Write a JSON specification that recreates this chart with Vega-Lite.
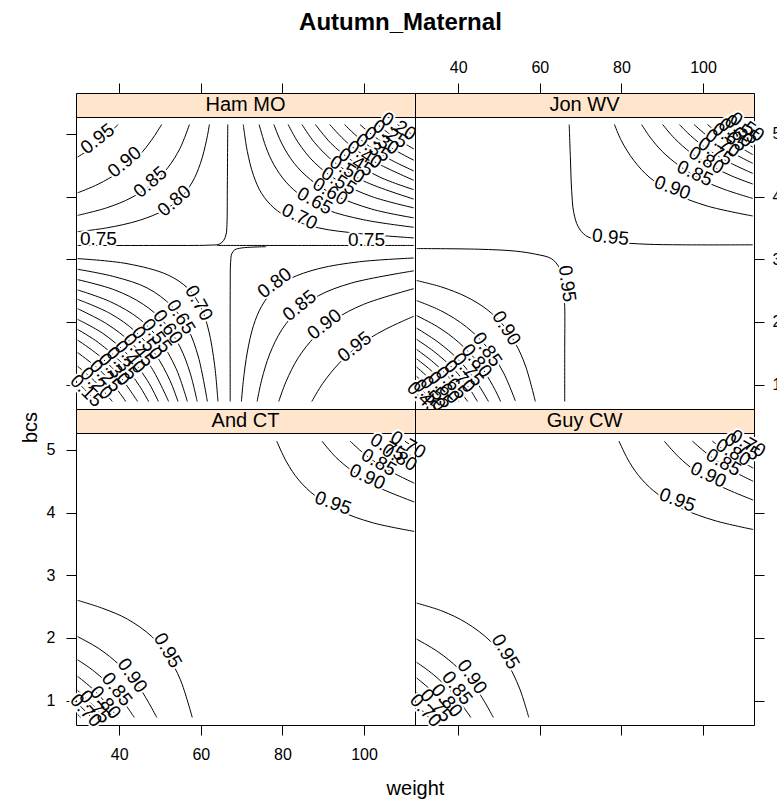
{
"$schema": "https://vega.github.io/schema/vega-lite/v6.json",
"background": "white",
"padding": {"left": 19, "top": 11, "right": 0, "bottom": 0},
"title": {"text": "Autumn_Maternal", "fontSize": 24, "font": "Liberation Sans", "fontWeight": "bold", "anchor": "middle", "color": "black", "baseline": "alphabetic", "offset": 5},
"config": {
  "view": {"stroke": "black", "strokeWidth": 1},
  "text": {"font": "Liberation Sans"},
  "axis": {"tickColor": "black", "tickSize": 10, "tickWidth": 1, "domain": false, "grid": false, "labelFont": "Liberation Sans", "labelFontSize": 16, "labelColor": "black", "labelFlush": false, "labelOverlap": false, "titleFont": "Liberation Sans", "titleFontSize": 20, "titleFontWeight": "normal", "titleColor": "black"}
},
"columns": 2,
"spacing": 0,
"bounds": "flush",
"align": "each",
"datasets": {
"hmL": [
{"line":"ul95","i":1,"weight":29.8,"bcs":4.63},{"line":"ul95","i":2,"weight":33.9,"bcs":4.81},{"line":"ul95","i":3,"weight":36.9,"bcs":4.97},{"line":"ul95","i":4,"weight":39.7,"bcs":5.15},
{"line":"ul90","i":1,"weight":29.8,"bcs":4.06},{"line":"ul90","i":2,"weight":34.9,"bcs":4.20},{"line":"ul90","i":3,"weight":39.9,"bcs":4.39},{"line":"ul90","i":4,"weight":44.9,"bcs":4.66},{"line":"ul90","i":5,"weight":47.9,"bcs":4.90},{"line":"ul90","i":6,"weight":50.4,"bcs":5.15},
{"line":"ul85","i":1,"weight":29.8,"bcs":3.70},{"line":"ul85","i":2,"weight":36.9,"bcs":3.82},{"line":"ul85","i":3,"weight":42.9,"bcs":3.98},{"line":"ul85","i":4,"weight":47.9,"bcs":4.19},{"line":"ul85","i":5,"weight":51.9,"bcs":4.46},{"line":"ul85","i":6,"weight":54.9,"bcs":4.77},{"line":"ul85","i":7,"weight":57.2,"bcs":5.15},
{"line":"ul80","i":1,"weight":29.8,"bcs":3.44},{"line":"ul80","i":2,"weight":36.9,"bcs":3.50},{"line":"ul80","i":3,"weight":44.9,"bcs":3.62},{"line":"ul80","i":4,"weight":50.9,"bcs":3.78},{"line":"ul80","i":5,"weight":54.9,"bcs":3.97},{"line":"ul80","i":6,"weight":57.9,"bcs":4.23},{"line":"ul80","i":7,"weight":59.9,"bcs":4.53},{"line":"ul80","i":8,"weight":61.4,"bcs":4.90},{"line":"ul80","i":9,"weight":62.1,"bcs":5.15},
{"line":"ul75","i":1,"weight":29.8,"bcs":3.22},{"line":"ul75","i":2,"weight":50,"bcs":3.22},{"line":"ul75","i":3,"weight":62,"bcs":3.225},{"line":"ul75","i":4,"weight":64.5,"bcs":3.24},{"line":"ul75","i":5,"weight":65.6,"bcs":3.30},{"line":"ul75","i":6,"weight":66.2,"bcs":3.40},{"line":"ul75","i":7,"weight":66.4,"bcs":3.55},{"line":"ul75","i":8,"weight":66.5,"bcs":4.2},{"line":"ul75","i":9,"weight":66.6,"bcs":5.15},
{"line":"r75","i":1,"weight":64,"bcs":3.22},{"line":"r75","i":2,"weight":88,"bcs":3.22},{"line":"r75","i":3,"weight":112.2,"bcs":3.22},
{"line":"lr75","i":1,"weight":67.2,"bcs":0.73},{"line":"lr75","i":2,"weight":67.2,"bcs":2.5},{"line":"lr75","i":3,"weight":67.3,"bcs":2.95},{"line":"lr75","i":4,"weight":67.6,"bcs":3.09},{"line":"lr75","i":5,"weight":68.3,"bcs":3.15},{"line":"lr75","i":6,"weight":70,"bcs":3.18},{"line":"lr75","i":7,"weight":76,"bcs":3.2},
{"line":"lr80","i":1,"weight":69.95,"bcs":0.73},{"line":"lr80","i":2,"weight":70.4,"bcs":1.05},{"line":"lr80","i":3,"weight":71.4,"bcs":1.52},{"line":"lr80","i":4,"weight":72.9,"bcs":1.94},{"line":"lr80","i":5,"weight":74.9,"bcs":2.25},{"line":"lr80","i":6,"weight":77.9,"bcs":2.51},{"line":"lr80","i":7,"weight":81.9,"bcs":2.69},{"line":"lr80","i":8,"weight":88.9,"bcs":2.85},{"line":"lr80","i":9,"weight":98.9,"bcs":2.96},{"line":"lr80","i":10,"weight":112.2,"bcs":3.02},
{"line":"lr85","i":1,"weight":73.8,"bcs":0.73},{"line":"lr85","i":2,"weight":74.9,"bcs":1.07},{"line":"lr85","i":3,"weight":76.9,"bcs":1.49},{"line":"lr85","i":4,"weight":79.9,"bcs":1.88},{"line":"lr85","i":5,"weight":83.9,"bcs":2.19},{"line":"lr85","i":6,"weight":88.9,"bcs":2.42},{"line":"lr85","i":7,"weight":96.9,"bcs":2.62},{"line":"lr85","i":8,"weight":112.2,"bcs":2.815},
{"line":"lr90","i":1,"weight":79.1,"bcs":0.73},{"line":"lr90","i":2,"weight":80.9,"bcs":1.05},{"line":"lr90","i":3,"weight":83.9,"bcs":1.43},{"line":"lr90","i":4,"weight":87.9,"bcs":1.76},{"line":"lr90","i":5,"weight":92.9,"bcs":2.04},{"line":"lr90","i":6,"weight":99.9,"bcs":2.28},{"line":"lr90","i":7,"weight":112.2,"bcs":2.53},
{"line":"lr95","i":1,"weight":87.2,"bcs":0.73},{"line":"lr95","i":2,"weight":89.9,"bcs":1.02},{"line":"lr95","i":3,"weight":93.9,"bcs":1.34},{"line":"lr95","i":4,"weight":98.9,"bcs":1.63},{"line":"lr95","i":5,"weight":104.9,"bcs":1.87},{"line":"lr95","i":6,"weight":112.2,"bcs":2.09},
{"line":"ur70","i":1,"weight":70.4,"bcs":5.15},{"line":"ur70","i":2,"weight":71.4,"bcs":4.72},{"line":"ur70","i":3,"weight":72.9,"bcs":4.34},{"line":"ur70","i":4,"weight":74.9,"bcs":4.05},{"line":"ur70","i":5,"weight":77.9,"bcs":3.82},{"line":"ur70","i":6,"weight":81.9,"bcs":3.65},{"line":"ur70","i":7,"weight":88.9,"bcs":3.50},{"line":"ur70","i":8,"weight":98.9,"bcs":3.41},{"line":"ur70","i":9,"weight":112.2,"bcs":3.34},
{"line":"ur65","i":1,"weight":74.3,"bcs":5.15},{"line":"ur65","i":2,"weight":75.9,"bcs":4.80},{"line":"ur65","i":3,"weight":77.9,"bcs":4.51},{"line":"ur65","i":4,"weight":80.9,"bcs":4.23},{"line":"ur65","i":5,"weight":84.9,"bcs":4.00},{"line":"ur65","i":6,"weight":90.9,"bcs":3.79},{"line":"ur65","i":7,"weight":99.9,"bcs":3.63},{"line":"ur65","i":8,"weight":112.2,"bcs":3.51},
{"line":"ur60","i":1,"weight":77.9,"bcs":5.15},{"line":"ur60","i":2,"weight":79.9,"bcs":4.84},{"line":"ur60","i":3,"weight":82.9,"bcs":4.53},{"line":"ur60","i":4,"weight":86.9,"bcs":4.27},{"line":"ur60","i":5,"weight":92.9,"bcs":4.02},{"line":"ur60","i":6,"weight":101.9,"bcs":3.80},{"line":"ur60","i":7,"weight":112.2,"bcs":3.66},
{"line":"ur55","i":1,"weight":81.4,"bcs":5.15},{"line":"ur55","i":2,"weight":83.9,"bcs":4.86},{"line":"ur55","i":3,"weight":87.9,"bcs":4.54},{"line":"ur55","i":4,"weight":93.9,"bcs":4.24},{"line":"ur55","i":5,"weight":101.9,"bcs":4.00},{"line":"ur55","i":6,"weight":112.2,"bcs":3.82},
{"line":"ur50","i":1,"weight":84.8,"bcs":5.15},{"line":"ur50","i":2,"weight":87.9,"bcs":4.86},{"line":"ur50","i":3,"weight":92.9,"bcs":4.54},{"line":"ur50","i":4,"weight":99.9,"bcs":4.25},{"line":"ur50","i":5,"weight":112.2,"bcs":3.96},
{"line":"ur45","i":1,"weight":88.1,"bcs":5.15},{"line":"ur45","i":2,"weight":91.9,"bcs":4.85},{"line":"ur45","i":3,"weight":96.9,"bcs":4.58},{"line":"ur45","i":4,"weight":103.9,"bcs":4.31},{"line":"ur45","i":5,"weight":112.2,"bcs":4.11},
{"line":"ur40","i":1,"weight":91.6,"bcs":5.15},{"line":"ur40","i":2,"weight":95.9,"bcs":4.86},{"line":"ur40","i":3,"weight":101.9,"bcs":4.58},{"line":"ur40","i":4,"weight":112.2,"bcs":4.26},
{"line":"ur35","i":1,"weight":95.2,"bcs":5.15},{"line":"ur35","i":2,"weight":99.9,"bcs":4.87},{"line":"ur35","i":3,"weight":105.9,"bcs":4.61},{"line":"ur35","i":4,"weight":112.2,"bcs":4.41},
{"line":"ur30","i":1,"weight":99.0,"bcs":5.15},{"line":"ur30","i":2,"weight":102.9,"bcs":4.94},{"line":"ur30","i":3,"weight":107.9,"bcs":4.73},{"line":"ur30","i":4,"weight":112.2,"bcs":4.58},
{"line":"ur25","i":1,"weight":103.3,"bcs":5.15},{"line":"ur25","i":2,"weight":106.9,"bcs":4.97},{"line":"ur25","i":3,"weight":112.2,"bcs":4.76},
{"line":"ur20","i":1,"weight":108.2,"bcs":5.15},{"line":"ur20","i":2,"weight":109.9,"bcs":5.07},{"line":"ur20","i":3,"weight":112.2,"bcs":4.98},
{"line":"ll70","i":1,"weight":29.8,"bcs":3.01},{"line":"ll70","i":2,"weight":41.9,"bcs":2.93},{"line":"ll70","i":3,"weight":51.9,"bcs":2.75},{"line":"ll70","i":4,"weight":56.9,"bcs":2.53},{"line":"ll70","i":5,"weight":59.9,"bcs":2.25},{"line":"ll70","i":6,"weight":61.9,"bcs":1.87},{"line":"ll70","i":7,"weight":63.4,"bcs":1.30},{"line":"ll70","i":8,"weight":64.2,"bcs":0.73},
{"line":"ll65","i":1,"weight":29.8,"bcs":2.84},{"line":"ll65","i":2,"weight":38.9,"bcs":2.72},{"line":"ll65","i":3,"weight":46.9,"bcs":2.54},{"line":"ll65","i":4,"weight":52.9,"bcs":2.25},{"line":"ll65","i":5,"weight":56.9,"bcs":1.88},{"line":"ll65","i":6,"weight":59.4,"bcs":1.44},{"line":"ll65","i":7,"weight":61.6,"bcs":0.73},
{"line":"ll60","i":1,"weight":29.8,"bcs":2.675},{"line":"ll60","i":2,"weight":38.9,"bcs":2.51},{"line":"ll60","i":3,"weight":45.9,"bcs":2.28},{"line":"ll60","i":4,"weight":50.9,"bcs":2.00},{"line":"ll60","i":5,"weight":54.9,"bcs":1.60},{"line":"ll60","i":6,"weight":57.4,"bcs":1.18},{"line":"ll60","i":7,"weight":59.1,"bcs":0.73},
{"line":"ll55","i":1,"weight":29.8,"bcs":2.51},{"line":"ll55","i":2,"weight":37.9,"bcs":2.32},{"line":"ll55","i":3,"weight":44.9,"bcs":2.05},{"line":"ll55","i":4,"weight":49.9,"bcs":1.71},{"line":"ll55","i":5,"weight":53.9,"bcs":1.26},{"line":"ll55","i":6,"weight":56.7,"bcs":0.73},
{"line":"ll50","i":1,"weight":29.8,"bcs":2.36},{"line":"ll50","i":2,"weight":37.9,"bcs":2.13},{"line":"ll50","i":3,"weight":43.9,"bcs":1.85},{"line":"ll50","i":4,"weight":48.9,"bcs":1.48},{"line":"ll50","i":5,"weight":52.4,"bcs":1.07},{"line":"ll50","i":6,"weight":54.4,"bcs":0.73},
{"line":"ll45","i":1,"weight":29.8,"bcs":2.21},{"line":"ll45","i":2,"weight":36.9,"bcs":1.97},{"line":"ll45","i":3,"weight":42.9,"bcs":1.67},{"line":"ll45","i":4,"weight":47.9,"bcs":1.27},{"line":"ll45","i":5,"weight":52.1,"bcs":0.73},
{"line":"ll40","i":1,"weight":29.8,"bcs":2.04},{"line":"ll40","i":2,"weight":35.9,"bcs":1.82},{"line":"ll40","i":3,"weight":41.9,"bcs":1.49},{"line":"ll40","i":4,"weight":46.9,"bcs":1.065},{"line":"ll40","i":5,"weight":49.6,"bcs":0.73},
{"line":"ll35","i":1,"weight":29.8,"bcs":1.88},{"line":"ll35","i":2,"weight":34.9,"bcs":1.67},{"line":"ll35","i":3,"weight":40.9,"bcs":1.325},{"line":"ll35","i":4,"weight":44.9,"bcs":0.985},{"line":"ll35","i":5,"weight":47.2,"bcs":0.73},
{"line":"ll30","i":1,"weight":29.8,"bcs":1.71},{"line":"ll30","i":2,"weight":34.9,"bcs":1.47},{"line":"ll30","i":3,"weight":39.9,"bcs":1.15},{"line":"ll30","i":4,"weight":44.5,"bcs":0.73},
{"line":"ll25","i":1,"weight":29.8,"bcs":1.51},{"line":"ll25","i":2,"weight":34.9,"bcs":1.25},{"line":"ll25","i":3,"weight":38.9,"bcs":0.97},{"line":"ll25","i":4,"weight":41.6,"bcs":0.73},
{"line":"ll20","i":1,"weight":29.8,"bcs":1.29},{"line":"ll20","i":2,"weight":33.9,"bcs":1.06},{"line":"ll20","i":3,"weight":38.3,"bcs":0.73},
{"line":"ll15","i":1,"weight":29.8,"bcs":1.03},{"line":"ll15","i":2,"weight":31.9,"bcs":0.90},{"line":"ll15","i":3,"weight":34.3,"bcs":0.73}
],
"hmT": [
{"lab":"0.95","weight":34.7,"bcs":4.92,"ang":-38},{"lab":"0.90","weight":41.3,"bcs":4.55,"ang":-40},{"lab":"0.85","weight":47.6,"bcs":4.23,"ang":-41},{"lab":"0.80","weight":53.5,"bcs":3.93,"ang":-41},
{"lab":"0.75","weight":34.9,"bcs":3.33,"ang":0},{"lab":"0.75","weight":100.6,"bcs":3.31,"ang":0},
{"lab":"0.80","weight":78.1,"bcs":2.62,"ang":-37},{"lab":"0.85","weight":84.2,"bcs":2.26,"ang":-39},{"lab":"0.90","weight":90.3,"bcs":1.96,"ang":-38},{"lab":"0.95","weight":97.7,"bcs":1.60,"ang":-38},
{"lab":"0.70","weight":84.2,"bcs":3.68,"ang":26},{"lab":"0.65","weight":87.9,"bcs":3.93,"ang":29},{"lab":"0.60","weight":91.7,"bcs":4.08,"ang":30},{"lab":"0.55","weight":93.8,"bcs":4.25,"ang":31},{"lab":"0.50","weight":95.9,"bcs":4.43,"ang":31},{"lab":"0.45","weight":98,"bcs":4.55,"ang":32},{"lab":"0.40","weight":100.1,"bcs":4.67,"ang":32},{"lab":"0.35","weight":102.2,"bcs":4.78,"ang":32},{"lab":"0.30","weight":104.3,"bcs":4.89,"ang":32},{"lab":"0.25","weight":106.4,"bcs":5.0,"ang":32},{"lab":"0.20","weight":108.5,"bcs":5.12,"ang":32},
{"lab":"0.70","weight":59.5,"bcs":2.30,"ang":61},{"lab":"0.65","weight":55.1,"bcs":2.08,"ang":58},{"lab":"0.60","weight":51.9,"bcs":1.92,"ang":55},{"lab":"0.55","weight":49.15,"bcs":1.78,"ang":53},{"lab":"0.50","weight":46.8,"bcs":1.66,"ang":51},{"lab":"0.45","weight":44.7,"bcs":1.55,"ang":50},{"lab":"0.40","weight":42.6,"bcs":1.44,"ang":49},{"lab":"0.35","weight":40.65,"bcs":1.34,"ang":48},{"lab":"0.30","weight":38.7,"bcs":1.24,"ang":47},{"lab":"0.25","weight":36.6,"bcs":1.14,"ang":46},{"lab":"0.20","weight":34.4,"bcs":1.02,"ang":45},{"lab":"0.15","weight":31.95,"bcs":0.90,"ang":45}
],
"jwL": [
{"line":"up95","i":1,"weight":67.2,"bcs":5.15},{"line":"up95","i":2,"weight":67.5,"bcs":4.6},{"line":"up95","i":3,"weight":67.8,"bcs":4.1},{"line":"up95","i":4,"weight":68.3,"bcs":3.75},{"line":"up95","i":5,"weight":69.4,"bcs":3.52},{"line":"up95","i":6,"weight":71.2,"bcs":3.38},{"line":"up95","i":7,"weight":74,"bcs":3.31},{"line":"up95","i":8,"weight":79,"bcs":3.27},{"line":"up95","i":9,"weight":86,"bcs":3.24},{"line":"up95","i":10,"weight":95,"bcs":3.23},{"line":"up95","i":11,"weight":112.2,"bcs":3.23},
{"line":"lo95","i":1,"weight":29.8,"bcs":3.17},{"line":"lo95","i":2,"weight":44.9,"bcs":3.16},{"line":"lo95","i":3,"weight":54,"bcs":3.13},{"line":"lo95","i":4,"weight":59,"bcs":3.08},{"line":"lo95","i":5,"weight":62.8,"bcs":3.01},{"line":"lo95","i":6,"weight":64.8,"bcs":2.86},{"line":"lo95","i":7,"weight":65.8,"bcs":2.6},{"line":"lo95","i":8,"weight":66.1,"bcs":2.25},{"line":"lo95","i":9,"weight":66.1,"bcs":1.5},{"line":"lo95","i":10,"weight":66.1,"bcs":0.73},
{"line":"ur90","i":1,"weight":78.3,"bcs":5.15},{"line":"ur90","i":2,"weight":80,"bcs":4.89},{"line":"ur90","i":3,"weight":83,"bcs":4.58},{"line":"ur90","i":4,"weight":87,"bcs":4.30},{"line":"ur90","i":5,"weight":93,"bcs":4.05},{"line":"ur90","i":6,"weight":101,"bcs":3.85},{"line":"ur90","i":7,"weight":112.2,"bcs":3.69},
{"line":"ur85","i":1,"weight":84.95,"bcs":5.15},{"line":"ur85","i":2,"weight":87,"bcs":4.95},{"line":"ur85","i":3,"weight":90,"bcs":4.72},{"line":"ur85","i":4,"weight":94,"bcs":4.50},{"line":"ur85","i":5,"weight":99,"bcs":4.29},{"line":"ur85","i":6,"weight":105,"bcs":4.12},{"line":"ur85","i":7,"weight":112.2,"bcs":3.97},
{"line":"ur80","i":1,"weight":90.1,"bcs":5.15},{"line":"ur80","i":2,"weight":93,"bcs":4.93},{"line":"ur80","i":3,"weight":97,"bcs":4.70},{"line":"ur80","i":4,"weight":102,"bcs":4.49},{"line":"ur80","i":5,"weight":107,"bcs":4.33},{"line":"ur80","i":6,"weight":112.2,"bcs":4.20},
{"line":"ur75","i":1,"weight":94.2,"bcs":5.15},{"line":"ur75","i":2,"weight":97,"bcs":4.97},{"line":"ur75","i":3,"weight":101,"bcs":4.76},{"line":"ur75","i":4,"weight":106,"bcs":4.56},{"line":"ur75","i":5,"weight":112.2,"bcs":4.37},
{"line":"ur70","i":1,"weight":97.8,"bcs":5.15},{"line":"ur70","i":2,"weight":101,"bcs":4.97},{"line":"ur70","i":3,"weight":105,"bcs":4.78},{"line":"ur70","i":4,"weight":112.2,"bcs":4.53},
{"line":"ur65","i":1,"weight":101.1,"bcs":5.15},{"line":"ur65","i":2,"weight":105,"bcs":4.95},{"line":"ur65","i":3,"weight":112.2,"bcs":4.67},
{"line":"ur60","i":1,"weight":103.9,"bcs":5.15},{"line":"ur60","i":2,"weight":108,"bcs":4.96},{"line":"ur60","i":3,"weight":112.2,"bcs":4.79},
{"line":"ur55","i":1,"weight":106.7,"bcs":5.15},{"line":"ur55","i":2,"weight":109.5,"bcs":5.02},{"line":"ur55","i":3,"weight":112.2,"bcs":4.91},
{"line":"ur50","i":1,"weight":109.6,"bcs":5.15},{"line":"ur50","i":2,"weight":112.2,"bcs":5.04},
{"line":"ll90","i":1,"weight":29.8,"bcs":2.66},{"line":"ll90","i":2,"weight":36,"bcs":2.555},{"line":"ll90","i":3,"weight":42,"bcs":2.40},{"line":"ll90","i":4,"weight":47,"bcs":2.20},{"line":"ll90","i":5,"weight":51,"bcs":1.95},{"line":"ll90","i":6,"weight":54,"bcs":1.66},{"line":"ll90","i":7,"weight":56.5,"bcs":1.295},{"line":"ll90","i":8,"weight":58.9,"bcs":0.73},
{"line":"ll85","i":1,"weight":29.8,"bcs":2.34},{"line":"ll85","i":2,"weight":36,"bcs":2.17},{"line":"ll85","i":3,"weight":42,"bcs":1.92},{"line":"ll85","i":4,"weight":47,"bcs":1.60},{"line":"ll85","i":5,"weight":51,"bcs":1.20},{"line":"ll85","i":6,"weight":54,"bcs":0.74},
{"line":"ll80","i":1,"weight":29.8,"bcs":2.10},{"line":"ll80","i":2,"weight":35,"bcs":1.92},{"line":"ll80","i":3,"weight":40,"bcs":1.68},{"line":"ll80","i":4,"weight":45,"bcs":1.34},{"line":"ll80","i":5,"weight":48.5,"bcs":0.98},{"line":"ll80","i":6,"weight":50.4,"bcs":0.73},
{"line":"ll75","i":1,"weight":29.8,"bcs":1.90},{"line":"ll75","i":2,"weight":35,"bcs":1.68},{"line":"ll75","i":3,"weight":40,"bcs":1.40},{"line":"ll75","i":4,"weight":44.5,"bcs":1.04},{"line":"ll75","i":5,"weight":47.4,"bcs":0.73},
{"line":"ll70","i":1,"weight":29.8,"bcs":1.72},{"line":"ll70","i":2,"weight":34,"bcs":1.53},{"line":"ll70","i":3,"weight":39,"bcs":1.24},{"line":"ll70","i":4,"weight":43,"bcs":0.91},{"line":"ll70","i":5,"weight":44.7,"bcs":0.73},
{"line":"ll65","i":1,"weight":29.8,"bcs":1.56},{"line":"ll65","i":2,"weight":34,"bcs":1.35},{"line":"ll65","i":3,"weight":38.5,"bcs":1.06},{"line":"ll65","i":4,"weight":42.3,"bcs":0.73},
{"line":"ll60","i":1,"weight":29.8,"bcs":1.41},{"line":"ll60","i":2,"weight":34,"bcs":1.185},{"line":"ll60","i":3,"weight":40.1,"bcs":0.73},
{"line":"ll55","i":1,"weight":29.8,"bcs":1.28},{"line":"ll55","i":2,"weight":34,"bcs":1.03},{"line":"ll55","i":3,"weight":38.1,"bcs":0.73},
{"line":"ll50","i":1,"weight":29.8,"bcs":1.13},{"line":"ll50","i":2,"weight":33,"bcs":0.935},{"line":"ll50","i":3,"weight":35.8,"bcs":0.73},
{"line":"ll45","i":1,"weight":29.8,"bcs":1.00},{"line":"ll45","i":2,"weight":33.8,"bcs":0.73},
{"line":"ll40","i":1,"weight":29.8,"bcs":0.86},{"line":"ll40","i":2,"weight":31.8,"bcs":0.73}
],
"jwT": [
{"lab":"0.95","weight":77.3,"bcs":3.35,"ang":6},{"lab":"0.95","weight":66.7,"bcs":2.61,"ang":82},
{"lab":"0.90","weight":92.5,"bcs":4.14,"ang":20},{"lab":"0.85","weight":98,"bcs":4.37,"ang":25},{"lab":"0.80","weight":100.8,"bcs":4.58,"ang":30},{"lab":"0.75","weight":103,"bcs":4.72,"ang":32},{"lab":"0.70","weight":104.8,"bcs":4.85,"ang":33},{"lab":"0.65","weight":106.5,"bcs":4.95,"ang":34},{"lab":"0.60","weight":108,"bcs":5.02,"ang":35},{"lab":"0.55","weight":109.5,"bcs":5.07,"ang":35},{"lab":"0.50","weight":110.8,"bcs":5.11,"ang":35},
{"lab":"0.90","weight":51.8,"bcs":1.90,"ang":58},{"lab":"0.85","weight":47.1,"bcs":1.56,"ang":55},{"lab":"0.80","weight":44.5,"bcs":1.38,"ang":52},{"lab":"0.75","weight":42.4,"bcs":1.24,"ang":50},{"lab":"0.70","weight":40.3,"bcs":1.13,"ang":48},{"lab":"0.65","weight":38.3,"bcs":1.03,"ang":47},{"lab":"0.60","weight":36.4,"bcs":0.95,"ang":46},{"lab":"0.55","weight":34.6,"bcs":0.88,"ang":45},{"lab":"0.50","weight":32.9,"bcs":0.83,"ang":45},{"lab":"0.45","weight":31.4,"bcs":0.79,"ang":45}
],
"acL": [
{"line":"ur95","i":1,"weight":78.6,"bcs":5.14},{"line":"ur95","i":2,"weight":81,"bcs":4.81},{"line":"ur95","i":3,"weight":84,"bcs":4.52},{"line":"ur95","i":4,"weight":88,"bcs":4.27},{"line":"ur95","i":5,"weight":94,"bcs":4.03},{"line":"ur95","i":6,"weight":102,"bcs":3.84},{"line":"ur95","i":7,"weight":112.3,"bcs":3.70},
{"line":"ur90","i":1,"weight":89.7,"bcs":5.14},{"line":"ur90","i":2,"weight":93,"bcs":4.89},{"line":"ur90","i":3,"weight":97,"bcs":4.67},{"line":"ur90","i":4,"weight":103,"bcs":4.42},{"line":"ur90","i":5,"weight":112.3,"bcs":4.17},
{"line":"ur85","i":1,"weight":96.6,"bcs":5.14},{"line":"ur85","i":2,"weight":100,"bcs":4.94},{"line":"ur85","i":3,"weight":105,"bcs":4.71},{"line":"ur85","i":4,"weight":112.3,"bcs":4.47},
{"line":"ur80","i":1,"weight":101.8,"bcs":5.14},{"line":"ur80","i":2,"weight":106,"bcs":4.93},{"line":"ur80","i":3,"weight":112.3,"bcs":4.69},
{"line":"ur75","i":1,"weight":106.2,"bcs":5.14},{"line":"ur75","i":2,"weight":109,"bcs":5.01},{"line":"ur75","i":3,"weight":112.3,"bcs":4.88},
{"line":"ur70","i":1,"weight":110,"bcs":5.14},{"line":"ur70","i":2,"weight":112.3,"bcs":5.04},
{"line":"ll95","i":1,"weight":29.8,"bcs":2.60},{"line":"ll95","i":2,"weight":36,"bcs":2.47},{"line":"ll95","i":3,"weight":42,"bcs":2.30},{"line":"ll95","i":4,"weight":48,"bcs":2.02},{"line":"ll95","i":5,"weight":52,"bcs":1.70},{"line":"ll95","i":6,"weight":55,"bcs":1.33},{"line":"ll95","i":7,"weight":57.9,"bcs":0.73},
{"line":"ll90","i":1,"weight":29.8,"bcs":2.02},{"line":"ll90","i":2,"weight":35,"bcs":1.83},{"line":"ll90","i":3,"weight":40,"bcs":1.57},{"line":"ll90","i":4,"weight":45,"bcs":1.20},{"line":"ll90","i":5,"weight":49.2,"bcs":0.73},
{"line":"ll85","i":1,"weight":29.8,"bcs":1.65},{"line":"ll85","i":2,"weight":34,"bcs":1.46},{"line":"ll85","i":3,"weight":39,"bcs":1.15},{"line":"ll85","i":4,"weight":43.7,"bcs":0.73},
{"line":"ll80","i":1,"weight":29.8,"bcs":1.385},{"line":"ll80","i":2,"weight":34,"bcs":1.155},{"line":"ll80","i":3,"weight":39.7,"bcs":0.73},
{"line":"ll75","i":1,"weight":29.8,"bcs":1.16},{"line":"ll75","i":2,"weight":33,"bcs":0.965},{"line":"ll75","i":3,"weight":36.2,"bcs":0.73},
{"line":"ll70","i":1,"weight":29.8,"bcs":0.955},{"line":"ll70","i":2,"weight":33.2,"bcs":0.73},
{"line":"ll65","i":1,"weight":29.8,"bcs":0.78},{"line":"ll65","i":2,"weight":30.6,"bcs":0.73}
],
"acT": [
{"lab":"0.95","weight":92.4,"bcs":4.15,"ang":20},{"lab":"0.90","weight":100.8,"bcs":4.57,"ang":25},{"lab":"0.85","weight":103.6,"bcs":4.80,"ang":30},{"lab":"0.80","weight":108.7,"bcs":4.88,"ang":30},{"lab":"0.75","weight":105.8,"bcs":5.04,"ang":30},{"lab":"0.70","weight":110.8,"bcs":5.08,"ang":30},
{"lab":"0.95","weight":51.9,"bcs":1.80,"ang":60},{"lab":"0.90","weight":43.2,"bcs":1.40,"ang":55},{"lab":"0.85","weight":39.4,"bcs":1.18,"ang":52},{"lab":"0.80","weight":36.6,"bcs":0.97,"ang":50},{"lab":"0.75","weight":34.0,"bcs":0.90,"ang":48},{"lab":"0.70","weight":31.8,"bcs":0.84,"ang":48}
],
"gcL": [
{"line":"ur95","i":1,"weight":79.4,"bcs":5.14},{"line":"ur95","i":2,"weight":82,"bcs":4.80},{"line":"ur95","i":3,"weight":85,"bcs":4.53},{"line":"ur95","i":4,"weight":89,"bcs":4.29},{"line":"ur95","i":5,"weight":95,"bcs":4.06},{"line":"ur95","i":6,"weight":103,"bcs":3.87},{"line":"ur95","i":7,"weight":112.3,"bcs":3.73},
{"line":"ur90","i":1,"weight":90.5,"bcs":5.14},{"line":"ur90","i":2,"weight":94,"bcs":4.89},{"line":"ur90","i":3,"weight":98,"bcs":4.67},{"line":"ur90","i":4,"weight":104,"bcs":4.43},{"line":"ur90","i":5,"weight":112.3,"bcs":4.20},
{"line":"ur85","i":1,"weight":97.4,"bcs":5.14},{"line":"ur85","i":2,"weight":101,"bcs":4.94},{"line":"ur85","i":3,"weight":106,"bcs":4.71},{"line":"ur85","i":4,"weight":112.3,"bcs":4.50},
{"line":"ur80","i":1,"weight":102.3,"bcs":5.14},{"line":"ur80","i":2,"weight":107,"bcs":4.91},{"line":"ur80","i":3,"weight":112.3,"bcs":4.71},
{"line":"ur75","i":1,"weight":106.7,"bcs":5.14},{"line":"ur75","i":2,"weight":109.5,"bcs":5.01},{"line":"ur75","i":3,"weight":112.3,"bcs":4.90},
{"line":"ur70","i":1,"weight":110.6,"bcs":5.14},{"line":"ur70","i":2,"weight":112.3,"bcs":5.07},
{"line":"ll95","i":1,"weight":29.8,"bcs":2.555},{"line":"ll95","i":2,"weight":36,"bcs":2.43},{"line":"ll95","i":3,"weight":42,"bcs":2.24},{"line":"ll95","i":4,"weight":48,"bcs":1.94},{"line":"ll95","i":5,"weight":52,"bcs":1.60},{"line":"ll95","i":6,"weight":55,"bcs":1.20},{"line":"ll95","i":7,"weight":57.3,"bcs":0.73},
{"line":"ll90","i":1,"weight":29.8,"bcs":1.98},{"line":"ll90","i":2,"weight":35,"bcs":1.78},{"line":"ll90","i":3,"weight":40,"bcs":1.515},{"line":"ll90","i":4,"weight":45,"bcs":1.13},{"line":"ll90","i":5,"weight":48.6,"bcs":0.73},
{"line":"ll85","i":1,"weight":29.8,"bcs":1.61},{"line":"ll85","i":2,"weight":34,"bcs":1.41},{"line":"ll85","i":3,"weight":39,"bcs":1.09},{"line":"ll85","i":4,"weight":43.1,"bcs":0.73},
{"line":"ll80","i":1,"weight":29.8,"bcs":1.36},{"line":"ll80","i":2,"weight":34,"bcs":1.125},{"line":"ll80","i":3,"weight":39.3,"bcs":0.73},
{"line":"ll75","i":1,"weight":29.8,"bcs":1.13},{"line":"ll75","i":2,"weight":33,"bcs":0.935},{"line":"ll75","i":3,"weight":35.8,"bcs":0.73},
{"line":"ll70","i":1,"weight":29.8,"bcs":0.93},{"line":"ll70","i":2,"weight":32.8,"bcs":0.73}
],
"gcT": [
{"lab":"0.95","weight":93.7,"bcs":4.20,"ang":20},{"lab":"0.90","weight":101.3,"bcs":4.60,"ang":25},{"lab":"0.85","weight":105,"bcs":4.80,"ang":30},{"lab":"0.80","weight":107.4,"bcs":4.96,"ang":30},{"lab":"0.75","weight":109.5,"bcs":5.05,"ang":30},{"lab":"0.70","weight":111,"bcs":5.1,"ang":30},
{"lab":"0.95","weight":51.6,"bcs":1.78,"ang":60},{"lab":"0.90","weight":43.4,"bcs":1.38,"ang":55},{"lab":"0.85","weight":39.7,"bcs":1.20,"ang":52},{"lab":"0.80","weight":37.2,"bcs":1.00,"ang":50},{"lab":"0.75","weight":34.5,"bcs":0.92,"ang":48},{"lab":"0.70","weight":32,"bcs":0.84,"ang":48}
]
},
"concat": [
{"width": 339, "height": 24, "view": {"fill": "#FFE5CC", "stroke": "black"}, "data": {"values": [{"site": "Ham  MO"}]}, "mark": {"type": "text", "fontSize": 20, "color": "black"}, "encoding": {"text": {"field": "site"}}},
{"width": 339, "height": 24, "view": {"fill": "#FFE5CC", "stroke": "black"}, "data": {"values": [{"site": "Jon  WV"}]}, "mark": {"type": "text", "fontSize": 20, "color": "black"}, "encoding": {"text": {"field": "site"}}},
{"width": 339, "height": 292,
 "encoding": {
   "x": {"field": "weight", "type": "quantitative", "scale": {"domain": [29.4, 112.5], "nice": false, "zero": false}, "axis": {"orient": "top", "offset": 24, "values": [40, 60, 80, 100], "labels": false, "title": null}},
   "y": {"field": "bcs", "type": "quantitative", "scale": {"domain": [0.61, 5.27], "nice": false, "zero": false}, "axis": {"orient": "left", "values": [1, 2, 3, 4, 5], "labels": false, "title": null}}
 },
 "layer": [
   {"data": {"name": "hmL"}, "mark": {"type": "line", "color": "black", "strokeWidth": 1, "interpolate": "catmull-rom", "clip": true}, "encoding": {"detail": {"field": "line"}, "order": {"field": "i", "type": "quantitative"}}},
   {"data": {"name": "hmT"}, "mark": {"type": "text", "fontSize": 19, "fill": "white", "stroke": "white", "strokeWidth": 4}, "encoding": {"text": {"field": "lab"}, "angle": {"field": "ang", "type": "quantitative", "scale": null}}},
   {"data": {"name": "hmT"}, "mark": {"type": "text", "fontSize": 19, "color": "black"}, "encoding": {"text": {"field": "lab"}, "angle": {"field": "ang", "type": "quantitative", "scale": null}}}
 ]},
{"width": 339, "height": 292,
 "encoding": {
   "x": {"field": "weight", "type": "quantitative", "scale": {"domain": [29.4, 112.5], "nice": false, "zero": false}, "axis": {"orient": "top", "offset": 24, "values": [40, 60, 80, 100], "labelPadding": 7.5, "title": null}},
   "y": {"field": "bcs", "type": "quantitative", "scale": {"domain": [0.61, 5.27], "nice": false, "zero": false}, "axis": {"orient": "right", "values": [1, 2, 3, 4, 5], "labelPadding": 8, "title": null}}
 },
 "layer": [
   {"data": {"name": "jwL"}, "mark": {"type": "line", "color": "black", "strokeWidth": 1, "interpolate": "catmull-rom", "clip": true}, "encoding": {"detail": {"field": "line"}, "order": {"field": "i", "type": "quantitative"}}},
   {"data": {"name": "jwT"}, "mark": {"type": "text", "fontSize": 19, "fill": "white", "stroke": "white", "strokeWidth": 4}, "encoding": {"text": {"field": "lab"}, "angle": {"field": "ang", "type": "quantitative", "scale": null}}},
   {"data": {"name": "jwT"}, "mark": {"type": "text", "fontSize": 19, "color": "black"}, "encoding": {"text": {"field": "lab"}, "angle": {"field": "ang", "type": "quantitative", "scale": null}}}
 ]},
{"width": 339, "height": 24, "view": {"fill": "#FFE5CC", "stroke": "black"}, "data": {"values": [{"site": "And  CT"}]}, "mark": {"type": "text", "fontSize": 20, "color": "black"}, "encoding": {"text": {"field": "site"}}},
{"width": 339, "height": 24, "view": {"fill": "#FFE5CC", "stroke": "black"}, "data": {"values": [{"site": "Guy  CW"}]}, "mark": {"type": "text", "fontSize": 20, "color": "black"}, "encoding": {"text": {"field": "site"}}},
{"width": 339, "height": 292,
 "encoding": {
   "x": {"field": "weight", "type": "quantitative", "scale": {"domain": [29.4, 112.5], "nice": false, "zero": false}, "axis": {"orient": "bottom", "values": [40, 60, 80, 100], "labelPadding": 11, "title": "weight", "titleX": 339, "titleY": 69, "titleAlign": "center", "titleBaseline": "alphabetic"}},
   "y": {"field": "bcs", "type": "quantitative", "scale": {"domain": [0.61, 5.27], "nice": false, "zero": false}, "axis": {"orient": "left", "values": [1, 2, 3, 4, 5], "labelPadding": 11, "title": "bcs", "titleX": -46, "titleY": -6, "titleAngle": 270, "titleAlign": "center", "titleBaseline": "middle"}}
 },
 "layer": [
   {"data": {"name": "acL"}, "mark": {"type": "line", "color": "black", "strokeWidth": 1, "interpolate": "catmull-rom", "clip": true}, "encoding": {"detail": {"field": "line"}, "order": {"field": "i", "type": "quantitative"}}},
   {"data": {"name": "acT"}, "mark": {"type": "text", "fontSize": 19, "fill": "white", "stroke": "white", "strokeWidth": 4}, "encoding": {"text": {"field": "lab"}, "angle": {"field": "ang", "type": "quantitative", "scale": null}}},
   {"data": {"name": "acT"}, "mark": {"type": "text", "fontSize": 19, "color": "black"}, "encoding": {"text": {"field": "lab"}, "angle": {"field": "ang", "type": "quantitative", "scale": null}}}
 ]},
{"width": 339, "height": 292,
 "encoding": {
   "x": {"field": "weight", "type": "quantitative", "scale": {"domain": [29.4, 112.5], "nice": false, "zero": false}, "axis": {"orient": "bottom", "values": [40, 60, 80, 100], "labels": false, "title": null}},
   "y": {"field": "bcs", "type": "quantitative", "scale": {"domain": [0.61, 5.27], "nice": false, "zero": false}, "axis": {"orient": "right", "values": [1, 2, 3, 4, 5], "labels": false, "title": null}}
 },
 "layer": [
   {"data": {"name": "gcL"}, "mark": {"type": "line", "color": "black", "strokeWidth": 1, "interpolate": "catmull-rom", "clip": true}, "encoding": {"detail": {"field": "line"}, "order": {"field": "i", "type": "quantitative"}}},
   {"data": {"name": "gcT"}, "mark": {"type": "text", "fontSize": 19, "fill": "white", "stroke": "white", "strokeWidth": 4}, "encoding": {"text": {"field": "lab"}, "angle": {"field": "ang", "type": "quantitative", "scale": null}}},
   {"data": {"name": "gcT"}, "mark": {"type": "text", "fontSize": 19, "color": "black"}, "encoding": {"text": {"field": "lab"}, "angle": {"field": "ang", "type": "quantitative", "scale": null}}}
 ]}
]
}
